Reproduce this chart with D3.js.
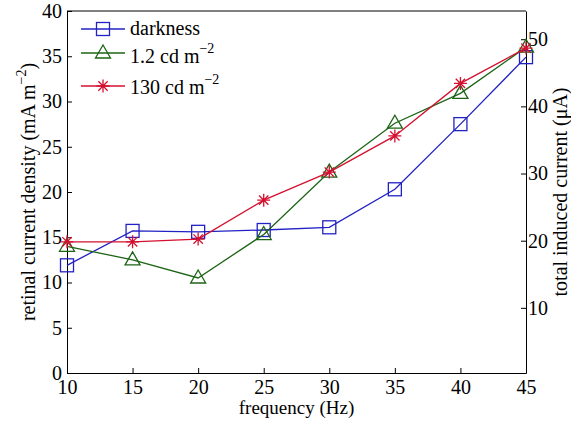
<!DOCTYPE html>
<html>
<head>
<meta charset="utf-8">
<script src="https://cdn.jsdelivr.net/npm/d3@7"></script>
</head>
<body style="margin:0">
<script>
// frequencies (Hz)
const freqs = [10, 15, 20, 25, 30, 35, 40, 45];
// retinal current density (mA m^-2)
const darkness = [11.9, 15.7, 15.6, 15.8, 16.1, 20.3, 27.5, 34.9];
const dim = [14.0, 12.5, 10.5, 15.3, 22.2, 27.6, 30.9, 36.0];
const bright = [14.5, 14.5, 14.8, 19.1, 22.2, 26.2, 32.0, 35.9];

const xTicks = [10, 15, 20, 25, 30, 35, 40, 45];
const yTicks = [0, 5, 10, 15, 20, 25, 30, 35, 40];
const y2Ticks = [10, 20, 30, 40, 50];

const series = [
    { name: "darkness", values: darkness, color: "#2222c4", marker: "square" },
    { name: "1.2 cd m", sup: "\u22122", values: dim, color: "#1c6414", marker: "triangle" },
    { name: "130 cd m", sup: "\u22122", values: bright, color: "#d41030", marker: "star" }
];

const FONT = "Liberation Serif";

const margin = { top: 11, right: 45, bottom: 48, left: 67 };
const W = 571, H = 421;
const width = W - margin.left - margin.right;
const height = H - margin.top - margin.bottom;

const svg = d3.select("body").append("svg")
    .attr("width", W)
    .attr("height", H)
    .attr("font-family", FONT);

const g = svg.append("g")
    .attr("transform", `translate(${margin.left},${margin.top})`);

const x = d3.scaleLinear().domain([10, 45]).range([0, width]);
const y = d3.scaleLinear().domain([0, 40]).range([height, 0]);
const y2 = d3.scaleLinear().domain([0.3, 54.2]).range([height, 0]);

// axes with inward ticks
const xAxis = g.append("g")
    .attr("transform", `translate(0,${height})`)
    .call(d3.axisBottom(x).tickValues(xTicks).tickSizeInner(-5).tickSizeOuter(0).tickPadding(7));
const yAxis = g.append("g")
    .call(d3.axisLeft(y).tickValues(yTicks).tickSizeInner(-5).tickSizeOuter(0).tickPadding(5));
const y2Axis = g.append("g")
    .attr("transform", `translate(${width},0)`)
    .call(d3.axisRight(y2).tickValues(y2Ticks).tickSizeInner(-5).tickSizeOuter(0).tickPadding(2));

[xAxis, yAxis, y2Axis].forEach(a => {
    a.attr("font-family", FONT).attr("font-size", 20);
    a.selectAll("path").attr("stroke", "#000").attr("stroke-width", 1);
    a.selectAll("line").attr("stroke", "#000");
    a.selectAll("text").attr("font-family", FONT).attr("font-size", 20);
});
xAxis.selectAll("text").attr("dy", "0.71em");

// top border
g.append("line")
    .attr("x1", 0).attr("x2", width)
    .attr("y1", 0).attr("y2", 0)
    .attr("stroke", "#000");

// axis titles
svg.append("text")
    .attr("x", margin.left + width / 2)
    .attr("y", 414)
    .attr("text-anchor", "middle")
    .attr("font-size", 19)
    .attr("font-family", FONT)
    .text("frequency (Hz)");

const yl = svg.append("text")
    .attr("transform", `translate(35,${margin.top + height / 2}) rotate(-90)`)
    .attr("text-anchor", "middle")
    .attr("font-size", 20)
    .attr("font-family", FONT);
yl.append("tspan").text("retinal current density (mA m");
yl.append("tspan").attr("dy", -9).attr("font-size", 14).text("\u22122");
yl.append("tspan").attr("dy", 9).text(")");

svg.append("text")
    .attr("transform", `translate(567,192) rotate(-90)`)
    .attr("text-anchor", "middle")
    .attr("font-size", 20)
    .attr("font-family", FONT)
    .text("total induced current (\u03bcA)");

// markers
function drawMarker(sel, type, color, cx, cy) {
    if (type === "square") {
        sel.append("rect")
            .attr("x", cx - 6.5).attr("y", cy - 6.5)
            .attr("width", 13).attr("height", 13)
            .attr("fill", "none").attr("stroke", color).attr("stroke-width", 1.3);
    } else if (type === "triangle") {
        sel.append("path")
            .attr("d", `M${cx},${cy - 8}L${cx + 7.5},${cy + 5}L${cx - 7.5},${cy + 5}Z`)
            .attr("fill", "none").attr("stroke", color).attr("stroke-width", 1.3);
    } else {
        const r = 6.5, d = r * 0.72;
        sel.append("path")
            .attr("d", `M${cx - r},${cy}H${cx + r}M${cx},${cy - r}V${cy + r}` +
                `M${cx - d},${cy - d}L${cx + d},${cy + d}M${cx - d},${cy + d}L${cx + d},${cy - d}`)
            .attr("fill", "none").attr("stroke", color).attr("stroke-width", 1.3);
    }
}

const line = d3.line()
    .x((d, i) => x(freqs[i]))
    .y(d => y(d));

series.forEach(s => {
    g.append("path")
        .datum(s.values)
        .attr("d", line)
        .attr("fill", "none")
        .attr("stroke", s.color)
        .attr("stroke-width", 1.3);
    const mg = g.append("g");
    s.values.forEach((v, i) => drawMarker(mg, s.marker, s.color, x(freqs[i]), y(v)));
});

// legend
const legendLineY = [29, 53, 86];
const legendTextY = [35, 63, 94];
const legend = svg.append("g");
series.forEach((s, i) => {
    const ly = legendLineY[i];
    legend.append("line")
        .attr("x1", 81).attr("x2", 125)
        .attr("y1", ly).attr("y2", ly)
        .attr("stroke", s.color).attr("stroke-width", 1.3);
    drawMarker(legend, s.marker, s.color, 103, ly);
    const t = legend.append("text")
        .attr("x", 130).attr("y", legendTextY[i])
        .attr("font-size", 20)
        .attr("font-family", FONT);
    t.append("tspan").text(s.name);
    if (s.sup) {
        t.append("tspan").attr("dy", -10).attr("font-size", 14).text(s.sup);
    }
});
</script>
</body>
</html>
